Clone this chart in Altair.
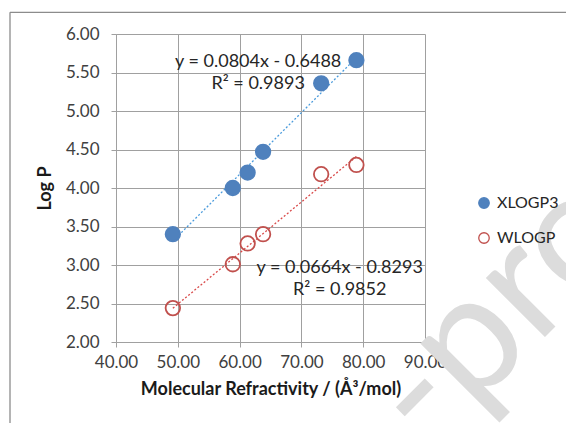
import altair as alt
import pandas as pd

# ---- data ----
mr = [49.2, 58.9, 61.3, 63.8, 73.2, 78.9]
xlogp3 = [3.40, 4.00, 4.20, 4.47, 5.36, 5.66]
wlogp = [2.44, 3.01, 3.28, 3.40, 4.18, 4.30]
series_names = ["XLOGP3", "WLOGP"]

eq_text = ["y = 0.0804x - 0.6488", "R² = 0.9893", "y = 0.0664x - 0.8293", "R² = 0.9852"]
eq_x = [63.0, 63.0, 76.2, 76.2]
eq_y = [5.636, 5.347, 2.966, 2.68]

x_ticks = [40, 50, 60, 70, 80, 90]
y_ticks = [2.0, 2.5, 3.0, 3.5, 4.0, 4.5, 5.0, 5.5, 6.0]

FONT = "Lato"
BLUE = "#4F81BD"
RED = "#C0504D"
GRID = "#a0a0a0"

df = pd.DataFrame({
    "series": [series_names[0]] * len(mr) + [series_names[1]] * len(mr),
    "x": mr + mr,
    "y": xlogp3 + wlogp,
})
eq_df = pd.DataFrame({"t": eq_text, "x": eq_x, "y": eq_y})
one = pd.DataFrame({"a": [0]})

xs = alt.Scale(domain=[40, 90], nice=False, zero=False)
ys = alt.Scale(domain=[2, 6], nice=False, zero=False)

xaxis = alt.Axis(values=x_ticks, format=".2f", title="Molecular Refractivity / (Å³/mol)",
                 labelFlush=False, labelOverlap=False)
yaxis = alt.Axis(values=y_ticks, format=".2f", title="Log P", labelOverlap=False)

X = alt.X("x:Q", scale=xs, axis=xaxis)
Y = alt.Y("y:Q", scale=ys, axis=yaxis)

# watermark (decoration)
watermark = alt.Chart(one).mark_text(
    text="-proof", font=FONT, fontSize=165, color="#dcdcdc",
    angle=315, align="left", baseline="alphabetic"
).encode(x=alt.value(312), y=alt.value(420))

frame_top = alt.Chart(one).mark_rule(color="#8c8c8c", strokeWidth=1.3).encode(
    x=alt.value(-106), x2=alt.value(460), y=alt.value(-21.7))
frame_left = alt.Chart(one).mark_rule(color="#8c8c8c", strokeWidth=1.3).encode(
    x=alt.value(-106), y=alt.value(-21.7), y2=alt.value(400))

trend_blue = alt.Chart(df).transform_filter(
    alt.datum.series == series_names[0]
).transform_regression("x", "y").mark_line(
    color="#4A9BDC", strokeDash=[2, 2], strokeWidth=1.3
).encode(x=X, y=Y)

trend_red = alt.Chart(df).transform_filter(
    alt.datum.series == series_names[1]
).transform_regression("x", "y").mark_line(
    color="#D94A4A", strokeDash=[2, 2], strokeWidth=1.3
).encode(x=X, y=Y)

points = alt.Chart(df).mark_point(shape="circle", size=210, opacity=1, strokeWidth=1.8).encode(
    x=X, y=Y,
    stroke=alt.Stroke("series:N", scale=alt.Scale(domain=series_names, range=[BLUE, RED]),
                      legend=alt.Legend(title=None)),
    fill=alt.Fill("series:N", scale=alt.Scale(domain=series_names, range=[BLUE, "transparent"]),
                  legend=alt.Legend(title=None)),
)

eqs = alt.Chart(eq_df).mark_text(font=FONT, fontSize=18, color="#262626", align="center",
                                 baseline="middle").encode(x=X, y=Y, text="t:N")

chart = alt.layer(watermark, frame_top, frame_left, trend_blue, trend_red, points, eqs).properties(
    width=309, height=308,
    autosize=alt.AutoSizeParams(type="none"),
    padding={"left": 116, "top": 34, "right": 141, "bottom": 81},
    background="white",
).configure_view(stroke=None).configure_axis(
    grid=True, gridColor=GRID, gridWidth=1, domainColor=GRID, domainWidth=1,
    tickColor=GRID, tickSize=5, labelFont=FONT, labelFontSize=17, labelColor="#404040",
    titleFont=FONT, titleFontSize=18, titleFontWeight="bold", titleColor="#1a1a1a",
).configure_axisX(titlePadding=10, labelPadding=7).configure_axisY(titlePadding=11, labelPadding=12
).configure_legend(
    orient="none", legendX=360, legendY=161, padding=0, labelFont=FONT, labelFontSize=16,
    labelColor="#262626", symbolSize=110, symbolStrokeWidth=1.3, rowPadding=19, labelOffset=5,
    symbolType="circle",
)

chart.save("out.html", embed_options={"renderer": "svg", "actions": False})
